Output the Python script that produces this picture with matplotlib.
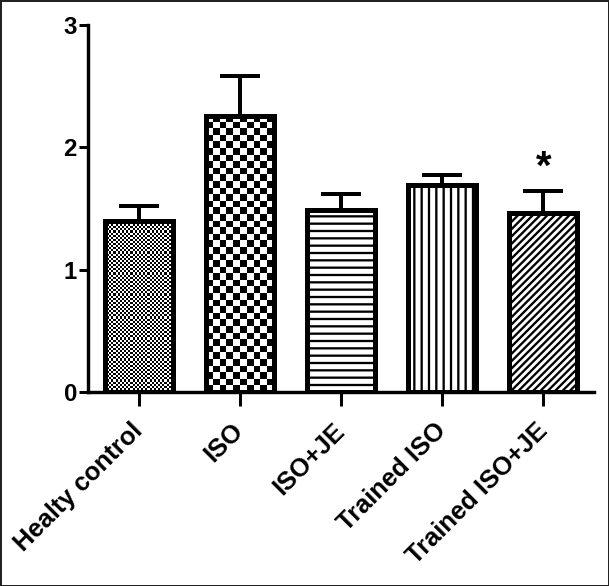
import numpy as np
import matplotlib
matplotlib.use("Agg")
import matplotlib.pyplot as plt
import matplotlib.transforms as mtransforms
from matplotlib.patches import Rectangle

categories = ["Healty control", "ISO", "ISO+JE", "Trained ISO", "Trained ISO+JE"]
means = [1.40, 2.26, 1.49, 1.69, 1.46]
errors = [0.12, 0.32, 0.13, 0.08, 0.18]
yticks = [0, 1, 2, 3]
significance = ["", "", "", "", "*"]

W, H, DPI = 609, 586, 88
PT = 72.0 / DPI  # points per pixel


def px(v):
    return v * PT


plt.rcParams['font.family'] = ['Liberation Sans', 'DejaVu Sans']
plt.rcParams['hatch.linewidth'] = px(2.3)

fig = plt.figure(figsize=(W / DPI, H / DPI), dpi=DPI)
ax = fig.add_axes([88 / W, 1 - 392 / H, (594 - 88) / W, (392 - 25) / H])

x = np.arange(len(categories))
width = 0.67
hatches = [None, None, "--", "||", "////"]
checker = [2.1, 6.6, None, None, None]  # checker square size in px

bars = ax.bar(x, means, width=width, facecolor="white", edgecolor="black",
              linewidth=0, zorder=2)
for b, h in zip(bars, hatches):
    if h:
        b.set_hatch(h)
        b.set_edgecolor("black")

ax.set_xlim(-0.5, len(categories) - 0.5)
ax.set_ylim(0, 3)

# checkerboard fills
px_per_x = (594 - 88) / len(categories)
px_per_y = (392 - 25) / 3.0
for b, sq, m, xi in zip(bars, checker, means, x):
    if sq is None:
        continue
    nx = max(1, int(round(width * px_per_x / sq)))
    ny = max(1, int(round(m * px_per_y / sq)))
    ii, jj = np.indices((ny, nx))
    img = ((ii + jj) % 2).astype(float)
    im = ax.imshow(img, cmap="gray", vmin=0, vmax=1, interpolation="nearest",
                   extent=[xi - width / 2, xi + width / 2, 0, m],
                   aspect="auto", zorder=2.5, origin="lower")
    im.set_clip_path(b)

# outlines
ax.bar(x, means, width=width, fill=False, edgecolor="black", linewidth=px(5),
       zorder=3)

ax.errorbar(x, means, yerr=[np.zeros(len(errors)), errors], fmt="none",
            ecolor="black", elinewidth=px(4), capsize=px(20), capthick=px(4),
            zorder=1.5)

for xi, m, e, s in zip(x, means, errors, significance):
    if s:
        ax.text(xi, m + e + 0.04, s, ha="center", va="bottom", fontsize=px(40),
                fontweight="bold")

ax.set_xlim(-0.5, len(categories) - 0.5)
ax.set_ylim(0, 3)
ax.set_yticks(yticks)
ax.set_yticklabels([str(t) for t in yticks], fontsize=px(24), fontweight="bold")
ax.set_xticks(x)
ax.set_xticklabels(categories, rotation=45, ha="right", va="center",
                   rotation_mode="anchor", fontsize=px(25.5), fontweight="bold")
shift = mtransforms.ScaledTranslation(4 / DPI, 0, fig.dpi_scale_trans)
for lab in ax.get_xticklabels():
    lab.set_transform(lab.get_transform() + shift)

for s in ["top", "right"]:
    ax.spines[s].set_visible(False)
for s in ["left", "bottom"]:
    ax.spines[s].set_linewidth(px(3.4))
ax.tick_params(axis="both", direction="out", length=px(9), width=px(3))
ax.tick_params(axis="x", length=px(14), pad=px(21))
ax.tick_params(axis="y", pad=px(2))

fig.patches.append(Rectangle((0, 0), 1, 1, transform=fig.transFigure,
                             fill=False, edgecolor="#222222", linewidth=px(3)))

fig.savefig("out.png", dpi=DPI)
